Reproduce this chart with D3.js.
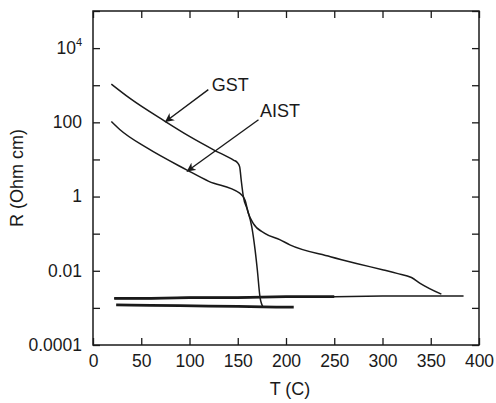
<!DOCTYPE html>
<html>
<head>
<meta charset="utf-8">
<script src="https://cdn.jsdelivr.net/npm/d3@7"></script>
<style>
  html, body { margin: 0; padding: 0; background: #fff; }
  svg { display: block; }
  text { font-family: "Liberation Sans", Arial, Helvetica, sans-serif; fill: #1a1a1a; }
</style>
</head>
<body>
<svg id="chart" width="496" height="403"></svg>
<script>
// ---- data ----
const xTickValues = [0, 50, 100, 150, 200, 250, 300, 350, 400];
const yTickValues = [1e-4, 1e-3, 1e-2, 1e-1, 1, 10, 100, 1e3, 1e4, 1e5];
const yTickLabels = {"0.0001": "0.0001", "0.01": "0.01", "1": "1", "100": "100"};

const gstHeatT = [19, 38, 75, 100, 125, 146, 149.5, 152, 153.5, 155.8, 160, 164.5, 168, 170.3, 173, 176];
const gstHeatR = [1070, 447, 105, 41.7, 18.2, 9.5, 8.3, 6.3, 2.9, 1.0, 0.44, 0.155, 0.036, 0.0105, 0.002, 0.00107];
const gstCoolT = [208, 190, 176, 150, 120, 90, 60, 40, 24];
const gstCoolR = [0.00105, 0.00105, 0.00107, 0.00110, 0.00112, 0.00115, 0.00117, 0.00118, 0.0012];

const aistHeatT = [19, 28, 56, 97, 120, 152, 157.5, 161, 166, 178, 194, 204, 246, 273, 301, 315, 330, 339, 361];
const aistHeatR = [105, 63, 20.4, 5.25, 2.57, 1.23, 0.81, 0.355, 0.19, 0.102, 0.068, 0.050, 0.024, 0.0158, 0.0105, 0.0085, 0.0066, 0.0046, 0.00234];
const aistCoolT = [384, 360, 300, 250, 200, 150, 100, 60, 22];
const aistCoolR = [0.0021, 0.0021, 0.0021, 0.0020, 0.0020, 0.0019, 0.0019, 0.0018, 0.0018];

// annotation labels with arrow start (text side) and tip (curve side) in data units
const annotations = [
  {label: "GST",  textT: 123, textR: 680, fromT: 119.5, fromR: 760, toT: 74.6, toR: 102},
  {label: "AIST", textT: 173, textR: 138, fromT: 171.5, fromR: 117, toT: 97.1, toR: 4.73}
];

// ---- layout ----
const svg = d3.select("#chart");
const mLeft = 93, mRight = 479, mTop = 11, mBottom = 345;
const x = d3.scaleLinear().domain([0, 400]).range([mLeft, mRight]);
const y = d3.scaleLog().domain([1e-4, 1e5]).range([mBottom, mTop]);
const ink = "#1a1a1a";

// frame
svg.append("rect").attr("x", mLeft).attr("y", mTop)
  .attr("width", mRight - mLeft).attr("height", mBottom - mTop)
  .attr("fill", "none").attr("stroke", ink).attr("stroke-width", 1.5);

// axes with inward ticks
const tl = 7;
const gx = svg.append("g").attr("transform", `translate(0,${mBottom})`)
  .call(d3.axisBottom(x).tickValues(xTickValues).tickSize(-tl).tickPadding(10).tickFormat(d3.format("d")));
const gxt = svg.append("g").attr("transform", `translate(0,${mTop})`)
  .call(d3.axisTop(x).tickValues(xTickValues).tickSize(-tl).tickFormat(""));
const gy = svg.append("g").attr("transform", `translate(${mLeft},0)`)
  .call(d3.axisLeft(y).tickValues(yTickValues).tickSize(-tl).tickPadding(11)
    .tickFormat(d => {
      const k = String(+d.toPrecision(1));
      return yTickLabels[k] !== undefined ? yTickLabels[k] : "";
    }));
const gyr = svg.append("g").attr("transform", `translate(${mRight},0)`)
  .call(d3.axisRight(y).tickValues(yTickValues).tickSize(-tl).tickFormat(""));

[gx, gxt, gy, gyr].forEach(g => {
  g.select(".domain").remove();
  g.selectAll(".tick line").attr("stroke", ink).attr("stroke-width", 1.3);
  g.selectAll(".tick text").attr("font-size", 17.5).attr("fill", ink)
    .attr("font-family", '"Liberation Sans", Arial, Helvetica, sans-serif');
});
gx.selectAll(".tick text").attr("dy", "0.71em");
gy.selectAll(".tick text").attr("dy", "0.3em");

// 10^4 label with superscript
gy.selectAll(".tick").filter(d => Math.abs(d - 1e4) < 1).select("text")
  .text(null)
  .call(t => {
    t.append("tspan").text("10");
    t.append("tspan").attr("font-size", 11).attr("dy", "-0.75em").text("4");
  });

// axis titles
svg.append("text").attr("x", 290).attr("y", 395).attr("text-anchor", "middle")
  .attr("font-size", 18).text("T (C)");
svg.append("text").attr("transform", "translate(23,178) rotate(-90)")
  .attr("text-anchor", "middle").attr("font-size", 18).text("R (Ohm cm)");

// curves
const zip = (a, b) => a.map((v, i) => [v, b[i]]);
const smooth = d3.line().x(d => x(d[0])).y(d => y(d[1])).curve(d3.curveMonotoneX);
const straight = d3.line().x(d => x(d[0])).y(d => y(d[1]));
const curves = [
  {pts: zip(gstHeatT, gstHeatR), w: 1.5, gen: smooth},
  {pts: zip(aistHeatT, aistHeatR), w: 1.5, gen: smooth},
  {pts: zip(gstCoolT, gstCoolR), w: 2.8, gen: straight},
  {pts: zip(aistCoolT, aistCoolR), w: 1.6, gen: straight},
  {pts: zip(aistCoolT, aistCoolR).filter(p => p[0] <= 250), w: 2.8, gen: straight}
];
svg.append("g").selectAll("path").data(curves).join("path")
  .attr("d", c => c.gen(c.pts))
  .attr("fill", "none").attr("stroke", ink).attr("stroke-width", c => c.w)
  .attr("stroke-linejoin", "round");

// arrow marker
svg.append("defs").append("marker")
  .attr("id", "arrow").attr("viewBox", "0 0 10 10").attr("refX", 10).attr("refY", 5)
  .attr("markerWidth", 9).attr("markerHeight", 9).attr("markerUnits", "userSpaceOnUse")
  .attr("orient", "auto")
  .append("path").attr("d", "M0,0 L10,5 L0,10 L3,5 Z").attr("fill", ink);

const ann = svg.append("g");
annotations.forEach(a => {
  ann.append("line")
    .attr("x1", x(a.fromT)).attr("y1", y(a.fromR))
    .attr("x2", x(a.toT)).attr("y2", y(a.toR))
    .attr("stroke", ink).attr("stroke-width", 1.4).attr("marker-end", "url(#arrow)");
  ann.append("text").attr("x", x(a.textT)).attr("y", y(a.textR))
    .attr("font-size", 18).text(a.label);
});
</script>
</body>
</html>
